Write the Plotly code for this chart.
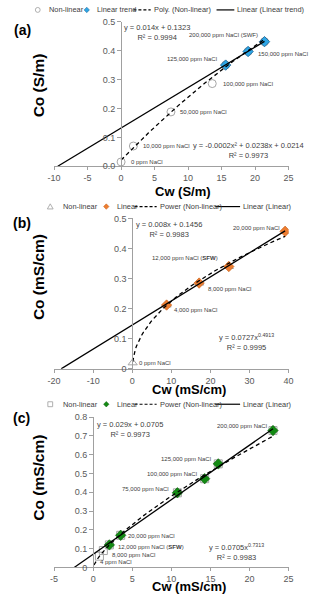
import numpy as np
import plotly.graph_objects as go

W, H = 309, 600

# ---------------- DATA ----------------
# Panel (a)  Cw (S/m) vs Co (S/m)
a_cw = [0.0, 1.83, 7.44, 13.6, 15.6, 18.95, 21.4]
a_co = [0.015, 0.07, 0.188, 0.286, 0.350, 0.397, 0.431]
a_labels = ["0 ppm NaCl", "10,000 ppm NaCl", "50,000 ppm NaCl", "100,000 ppm NaCl",
            "125,000 ppm NaCl", "150,000 ppm NaCl", "200,000 ppm NaCl (SWF)"]
a_lin_idx = [4, 5, 6]
a_lin = (0.014, 0.1323)               # slope, intercept
a_poly = (-0.0002, 0.0238, 0.0214)    # quadratic coefficients
a_eq1 = "y = 0.014x + 0.1323<br>R² = 0.9994"
a_eq2 = "y = -0.0002x² + 0.0238x + 0.0214<br>R² = 0.9973"
a_xticks = [-10, -5, 0, 5, 10, 15, 20, 25]
a_yticks = [0.0, 0.1, 0.2, 0.3, 0.4, 0.5]
a_yticktext = ["0.0", "0.1", "0.2", "0.3", "0.4", "0.5"]

# Panel (b)  Cw (mS/cm) vs Co (mS/cm)
b_cw = [0.1, 8.78, 17.1, 24.7, 39.1]
b_co = [0.02, 0.212, 0.285, 0.340, 0.457]
b_labels = ["0 ppm NaCl", "4,000 ppm NaCl", "8,000 ppm NaCl",
            "12,000 ppm NaCl (<b>SFW</b>)", "20,000 ppm NaCl"]
b_lin_idx = [1, 2, 3, 4]
b_lin = (0.008, 0.1456)
b_pow = (0.0727, 0.4913)
b_eq1 = "y = 0.008x + 0.1456<br>R² = 0.9983"
b_eq2 = "y = 0.0727x<sup>0.4913</sup><br>R² = 0.9995"
b_xticks = [-20, -10, 0, 10, 20, 30, 40]
b_yticks = [0, 0.1, 0.2, 0.3, 0.4, 0.5]
b_yticktext = ["0", "0.1", "0.2", "0.3", "0.4", "0.5"]

# Panel (c)  Cw (mS/cm) vs Co (mS/cm)
c_cw = [0.8, 1.3, 2.07, 3.52, 10.77, 14.26, 16.0, 23.0]
c_co = [0.06, 0.09, 0.12, 0.171, 0.397, 0.472, 0.551, 0.728]
c_labels = ["4 ppm NaCl", "8,000 ppm NaCl", "12,000 ppm NaCl (<b>SFW</b>)", "20,000 ppm NaCl",
            "75,000 ppm NaCl", "100,000 ppm NaCl", "125,000 ppm NaCl", "200,000 ppm NaCl"]
c_lin_idx = [2, 3, 4, 5, 6, 7]
c_lin = (0.029, 0.0705)
c_pow = (0.0705, 0.7313)
c_eq1 = "y = 0.029x + 0.0705<br>R² = 0.9973"
c_eq2 = "y = 0.0705x<sup>0.7313</sup><br>R² = 0.9983"
c_xticks = [-5, 0, 5, 10, 15, 20, 25]
c_yticks = [0, 0.1, 0.2, 0.3, 0.4, 0.5, 0.6, 0.7, 0.8]
c_yticktext = ["0", "0.1", "0.2", "0.3", "0.4", "0.5", "0.6", "0.7", "0.8"]

# ---------------- STYLE / LAYOUT ----------------
FONT = "Liberation Sans, Arial, sans-serif"
TXT = "#404040"
TICK = "#595959"
AXC = "#a0a0a0"
GRAY = "#a6a6a6"


def PX(x):
    return x / W


def PY(y):
    return 1 - y / H


panels = [
    dict(key="a", xr=[-10, 25], yr=[0, 0.5], top=17, bot=164),
    dict(key="b", xr=[-20, 40], yr=[0, 0.5], top=217, bot=370),
    dict(key="c", xr=[-5, 25], yr=[0, 0.8], top=419, bot=572),
]
XD = [PX(49), PX(293)]

fig = go.Figure()
layout = dict(width=W, height=H, autosize=False, margin=dict(l=0, r=0, t=0, b=0),
              paper_bgcolor="white", plot_bgcolor="white", showlegend=False,
              font=dict(family=FONT, color=TXT))
annotations = []
shapes = []

xticks_all = [a_xticks, b_xticks, c_xticks]
yticks_all = [(a_yticks, a_yticktext), (b_yticks, b_yticktext), (c_yticks, c_yticktext)]

for i, p in enumerate(panels):
    n = "" if i == 0 else str(i + 1)
    yd = [PY(p["bot"]), PY(p["top"])]
    ypos = XD[0] + (0 - p["xr"][0]) / (p["xr"][1] - p["xr"][0]) * (XD[1] - XD[0])
    xt = xticks_all[i]
    yt, ytt = yticks_all[i]
    layout["xaxis" + n] = dict(domain=XD, range=p["xr"], anchor="y" + n, showgrid=False, zeroline=False,
                               showline=True, linecolor=AXC, linewidth=1, ticks="outside", ticklen=3,
                               tickcolor=AXC, tickvals=xt, ticktext=[str(v) for v in xt],
                               tickfont=dict(size=9, color=TICK, family=FONT), fixedrange=True)
    layout["yaxis" + n] = dict(domain=yd, range=p["yr"], anchor="free", position=ypos, showgrid=False,
                               zeroline=False, showline=True, linecolor=AXC, linewidth=1, ticks="outside",
                               ticklen=4, tickcolor=AXC, tickvals=yt, ticktext=ytt,
                               tickfont=dict(size=9, color=TICK, family=FONT), fixedrange=True)

LINE = dict(color="black", width=1.3)
DASH = dict(color="black", width=1.3, dash="4px,3px")

# ---- panel a traces ----
fig.add_trace(go.Scatter(x=a_cw, y=a_co, mode="markers", xaxis="x", yaxis="y",
                         marker=dict(symbol="circle-open", size=8, color=GRAY, line=dict(width=1))))
fig.add_trace(go.Scatter(x=[a_cw[k] for k in a_lin_idx], y=[a_co[k] for k in a_lin_idx], mode="markers",
                         xaxis="x", yaxis="y",
                         marker=dict(symbol="diamond", size=8, color="#2ea6e6", line=dict(width=0.8, color="#1b5f8f"))))
xa = np.linspace(0, max(a_cw), 80)
fig.add_trace(go.Scatter(x=xa, y=a_poly[0] * xa ** 2 + a_poly[1] * xa + a_poly[2], mode="lines",
                         xaxis="x", yaxis="y", line=DASH))
xl = np.array([-a_lin[1] / a_lin[0], max(a_cw)])
fig.add_trace(go.Scatter(x=xl, y=a_lin[0] * xl + a_lin[1], mode="lines", xaxis="x", yaxis="y", line=LINE))

# ---- panel b traces ----
fig.add_trace(go.Scatter(x=b_cw, y=b_co, mode="markers", xaxis="x2", yaxis="y2",
                         marker=dict(symbol="triangle-up-open", size=8, color=GRAY, line=dict(width=1))))
fig.add_trace(go.Scatter(x=[b_cw[k] for k in b_lin_idx], y=[b_co[k] for k in b_lin_idx], mode="markers",
                         xaxis="x2", yaxis="y2",
                         marker=dict(symbol="diamond", size=8, color="#ed7d31", line=dict(width=0.6, color="#c55a11"))))
xb = np.linspace(min(b_cw), max(b_cw), 120)
fig.add_trace(go.Scatter(x=xb, y=b_pow[0] * xb ** b_pow[1], mode="lines", xaxis="x2", yaxis="y2", line=DASH))
xl = np.array([-b_lin[1] / b_lin[0], max(b_cw)])
fig.add_trace(go.Scatter(x=xl, y=b_lin[0] * xl + b_lin[1], mode="lines", xaxis="x2", yaxis="y2", line=LINE))

# ---- panel c traces ----
fig.add_trace(go.Scatter(x=c_cw, y=c_co, mode="markers", xaxis="x3", yaxis="y3",
                         marker=dict(symbol="square-open", size=8, color=GRAY, line=dict(width=1))))
fig.add_trace(go.Scatter(x=[c_cw[k] for k in c_lin_idx], y=[c_co[k] for k in c_lin_idx], mode="markers",
                         xaxis="x3", yaxis="y3",
                         marker=dict(symbol="diamond", size=8, color="#138a13", line=dict(width=0.6, color="#0a5c0a"))))
xc = np.linspace(0.1, max(c_cw), 120)
fig.add_trace(go.Scatter(x=xc, y=c_pow[0] * xc ** c_pow[1], mode="lines", xaxis="x3", yaxis="y3", line=DASH))
xl = np.array([-c_lin[1] / c_lin[0], max(c_cw)])
fig.add_trace(go.Scatter(x=xl, y=c_lin[0] * xl + c_lin[1], mode="lines", xaxis="x3", yaxis="y3", line=LINE))

# ---- point labels (anchored to data points, with pixel offsets) ----
LBL = dict(size=6, color=TXT, family=FONT)
# (anchor, xshift, yshift) per label
a_off = [("left", 8, 0), ("left", 7.5, 0), ("left", 7.5, 0), ("left", 8.5, 0),
         ("right", -6.5, 6), ("left", 7.5, -3), ("right", -4, 7)]
b_off = [("left", 4.5, 0), ("left", 5, -5), ("left", 6.5, -6), ("right", -9, 9), ("right", -3.5, 3)]
c_off = [("left", -1, -6), ("left", 6.5, -4), ("left", 7, -2), ("left", 5, -1),
         ("right", -6, 4), ("right", -5.5, 5), ("right", -5, 5), ("right", -3.5, 4.5)]
for (xs, ys, labs, offs, ax) in [(a_cw, a_co, a_labels, a_off, ""), (b_cw, b_co, b_labels, b_off, "2"),
                                 (c_cw, c_co, c_labels, c_off, "3")]:
    for x, y, t, (anc, dx, dy) in zip(xs, ys, labs, offs):
        annotations.append(dict(x=x, y=y, xref="x" + ax, yref="y" + ax, text=t, showarrow=False,
                                xanchor=anc, yanchor="middle", xshift=dx, yshift=dy, font=LBL))

# ---- equations ----
EQ = dict(size=7.5, color=TXT, family=FONT)
for t, cx, cy in [(a_eq1, 156, 28), (a_eq2, 251, 147.5), (b_eq1, 169, 228), (b_eq2, 249.5, 343),
                  (c_eq1, 128, 432), (c_eq2, 239, 556.5)]:
    annotations.append(dict(x=PX(cx), y=PY(cy), xref="paper", yref="paper", text=t, showarrow=False,
                            xanchor="center", yanchor="middle", align="center", font=EQ))

# ---- panel letters and axis titles ----
for t, x, y in [("(a)", 5, 25), ("(b)", 4, 221.5), ("(c)", 4, 420)]:
    annotations.append(dict(x=PX(x), y=PY(y), xref="paper", yref="paper", text="<b>%s</b>" % t,
                            showarrow=False, xanchor="left", yanchor="middle",
                            font=dict(size=14, color="black", family=FONT)))
for t, x, y in [("Cw (S/m)", 183, 189.5), ("Cw (mS/cm)", 189, 391), ("Cw (mS/cm)", 189, 591)]:
    annotations.append(dict(x=PX(x), y=PY(y), xref="paper", yref="paper", text="<b>%s</b>" % t,
                            showarrow=False, xanchor="center", yanchor="middle", borderpad=0,
                            font=dict(size=13, color="black", family=FONT)))
for t, x, y in [("Co (S/m)", 33, 82), ("Co (mS/cm)", 33, 277), ("Co (mS/cm)", 33, 481)]:
    annotations.append(dict(x=PX(x), y=PY(y), xref="paper", yref="paper", text="<b>%s</b>" % t,
                            showarrow=False, xanchor="center", yanchor="middle", textangle=-90,
                            font=dict(size=15.5, color="black", family=FONT)))

# ---- custom legends ----
LEG = dict(size=7.4, color=TXT, family=FONT)


def ptxt(t, x, y):
    annotations.append(dict(x=PX(x), y=PY(y), xref="paper", yref="paper", text=t, showarrow=False,
                            xanchor="left", yanchor="middle", font=LEG))


def pline(x0, x1, y, dash=None):
    shapes.append(dict(type="line", xref="paper", yref="paper", x0=PX(x0), x1=PX(x1), y0=PY(y), y1=PY(y),
                       line=dict(color="black", width=1.2, dash=dash if dash else "solid")))


def ppath(pts, fill, line, lw=0.8):
    d = "M " + " L ".join("%f,%f" % (PX(a), PY(b)) for a, b in pts) + " Z"
    shapes.append(dict(type="path", xref="paper", yref="paper", path=d,
                       fillcolor=fill, line=dict(color=line, width=lw)))


def pcircle(x, y, r):
    shapes.append(dict(type="circle", xref="paper", yref="paper", x0=PX(x - r), x1=PX(x + r),
                       y0=PY(y + r), y1=PY(y - r), line=dict(color=GRAY, width=0.9)))


def pdiamond(x, y, s, fill, line):
    ppath([(x, y - s), (x + s, y), (x, y + s), (x - s, y)], fill, line, 0.5)


legends = [
    (5, ["Non-linear", "Linear trend", "Poly. (Non-linear)", "Linear (Linear trend)"],
     "circle", "#2ea6e6", "#1b5f8f", [32, 83, 131.5, 150.5, 218, 237, 41.7, 92]),
    (205, ["Non-linear", "Linear", "Power (Non-linear)", "Linear (Linear)"],
     "triangle", "#ed7d31", "#c55a11", [45, 103.3, 132.7, 156.7, 216.7, 243, 56.7, 112.7]),
    (406, ["Non-linear", "Linear", "Power (Non-linear)", "Linear (Linear)"],
     "square", "#138a13", "#0a5c0a", [45, 103.3, 132.7, 156.7, 216.7, 243, 56.7, 112.7]),
]
for y, names, sym, fill, lc, xs in legends:
    mx, dx, d0, t3, s0, t4, t1, t2 = xs
    if sym == "circle":
        pcircle(mx, y, 2.5)
    elif sym == "triangle":
        ppath([(mx, y - 2.8), (mx + 3, y + 2.4), (mx - 3, y + 2.4)], "rgba(0,0,0,0)", GRAY, 0.9)
    else:
        ppath([(mx - 2.5, y - 2.5), (mx + 2.5, y - 2.5), (mx + 2.5, y + 2.5), (mx - 2.5, y + 2.5)],
              "rgba(0,0,0,0)", GRAY, 0.9)
    pdiamond(dx, y, 2.8, fill, lc)
    pline(d0, t3 - 1, y, dash="3px,2px")
    pline(s0, t4 - 0.5, y)
    ptxt(names[0], t1, y)
    ptxt(names[1], t2, y)
    ptxt(names[2], t3, y)
    ptxt(names[3], t4, y)

layout["annotations"] = annotations
layout["shapes"] = shapes
fig.update_layout(**layout)
fig.write_html("out.html", config={"displayModeBar": False},
               post_script="document.body.style.margin='0';document.body.style.overflow='hidden';")
